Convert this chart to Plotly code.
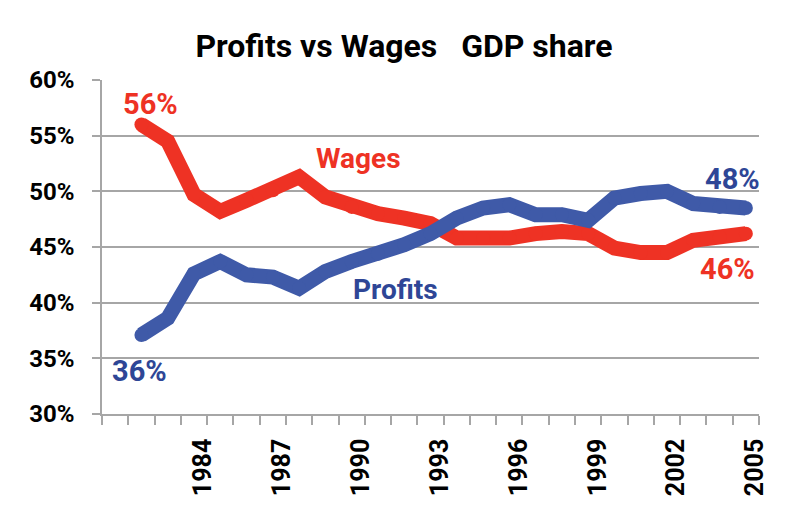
import plotly.graph_objects as go

# values (% of GDP)
years = list(range(1982, 2006))
wages = [56.0, 54.5, 49.7, 48.2, 49.2, 50.1, 51.3, 49.5, 48.6, 48.0, 47.6, 47.1,
         45.8, 45.8, 45.8, 46.2, 46.4, 46.2, 44.9, 44.5, 44.5, 45.6, 45.9, 46.2]
profits = [37.1, 38.6, 42.6, 43.7, 42.5, 42.3, 41.3, 42.8, 43.7, 44.4, 45.2, 46.2,
           47.6, 48.5, 48.8, 47.9, 47.9, 47.4, 49.4, 49.8, 50.0, 48.9, 48.6, 48.5]

year_labels = [1984, 1987, 1990, 1993, 1996, 1999, 2002, 2005]
y_ticks = [30, 35, 40, 45, 50, 55, 60]

RED = "#EE3224"
BLUE = "#3F5AA8"
DARK_BLUE = "#2E4696"
GRID = "#A6A6A6"
FONT = "Roboto, Arial, sans-serif"

# text labels: (text, year, value, colour, size)
labels = [
    ("56%", 1982.33, 57.85, RED, 29),
    ("Wages", 1990.25, 52.95, RED, 28),
    ("36%", 1981.93, 33.9, DARK_BLUE, 29),
    ("Profits", 1991.65, 41.15, DARK_BLUE, 28),
    ("48%", 2004.5, 51.1, DARK_BLUE, 29),
    ("46%", 2004.3, 43.0, RED, 29),
]

fig = go.Figure()
for name, vals, colour in [("Wages", wages, RED), ("Profits", profits, BLUE)]:
    fig.add_trace(go.Scatter(
        x=years, y=vals, mode="lines+markers", name=name,
        line=dict(color=colour, width=15),
        marker=dict(color=colour, size=14, line=dict(width=0)),
        hoverinfo="skip",
    ))

for text, x, y, colour, size in labels:
    fig.add_annotation(
        x=x, y=y, text=f"<b>{text}</b>", showarrow=False,
        font=dict(family=FONT, size=size, color=colour),
        xanchor="center", yanchor="middle",
    )

# the page body adds an 8px offset, so margins are shifted up/left by 8px
fig.update_layout(
    width=792, height=519,
    title=dict(
        text="<b>Profits vs Wages\u00a0\u00a0\u00a0GDP share</b>",
        x=0.5, xanchor="center", xref="container",
        y=0.906, yanchor="bottom", yref="container",
        font=dict(family=FONT, size=32, color="black"),
    ),
    showlegend=False,
    margin=dict(l=94, r=41, t=72, b=113),
    paper_bgcolor="white",
    plot_bgcolor="white",
    xaxis=dict(
        range=[1980.5, 2005.5], automargin=False,
        # rotated labels sit a little right of the category centre in the original
        tickmode="array", tickvals=[y + 0.35 for y in year_labels],
        ticktext=[f"<b>{y}</b>" for y in year_labels],
        tickangle=-90, ticks="", ticklabelstandoff=13,
        tickfont=dict(family=FONT, size=25, color="black"),
        showgrid=False, zeroline=False,
        showline=True, linecolor=GRID, linewidth=1.5,
        minor=dict(tick0=0.5, dtick=1, ticks="outside", ticklen=9,
                   tickcolor=GRID, tickwidth=1.5, showgrid=False),
    ),
    yaxis=dict(
        range=[30, 60], automargin=False,
        tickmode="array", tickvals=y_ticks,
        ticktext=[f"<b>{v}%</b>" for v in y_ticks],
        ticks="outside", ticklen=8, tickcolor=GRID, tickwidth=1.5,
        ticklabelstandoff=13,
        tickfont=dict(family=FONT, size=24, color="black"),
        showgrid=True, gridcolor=GRID, gridwidth=1.5,
        zeroline=False,
        showline=True, linecolor=GRID, linewidth=1.5,
    ),
)

fig.write_html("out.html")
